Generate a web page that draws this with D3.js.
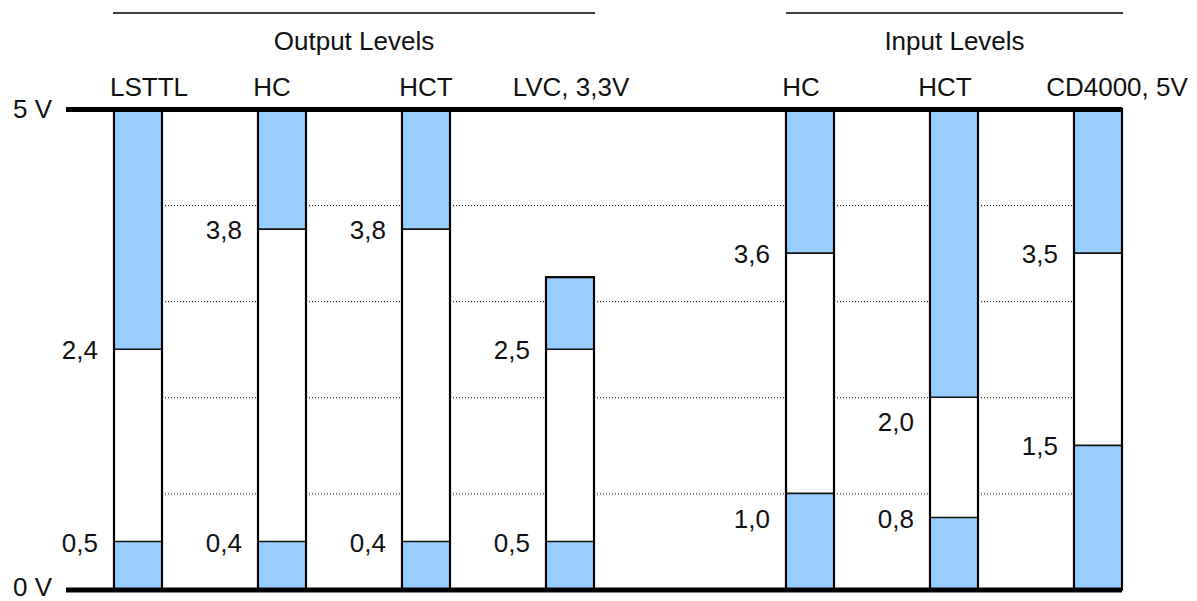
<!DOCTYPE html>
<html>
<head>
<meta charset="utf-8">
<script src="https://cdn.jsdelivr.net/npm/d3@7"></script>
<style>
  body { margin: 0; background: #fff; }
  svg { display: block; font-family: "Liberation Sans", Arial, sans-serif; }
</style>
</head>
<body>
<script>
// levels are drawn schematically (the label shows the spec value)
const outputNames = ["LSTTL", "HC", "HCT", "LVC, 3,3V"];
const outputTop = [5, 5, 5, 3.25];
const outputHigh = [2.5, 3.75, 3.75, 2.5];
const outputLow = [0.5, 0.5, 0.5, 0.5];
const outputHighLabels = ["2,4", "3,8", "3,8", "2,5"];
const outputLowLabels = ["0,5", "0,4", "0,4", "0,5"];

const inputNames = ["HC", "HCT", "CD4000, 5V"];
const inputTop = [5, 5, 5];
const inputHigh = [3.5, 2.0, 3.5];
const inputLow = [1.0, 0.75, 1.5];
const inputHighLabels = ["3,6", "2,0", "3,5"];
const inputLowLabels = ["1,0", "0,8", "1,5"];
const inputHighLabelAt = [3.5, 1.75, 3.5];
const inputLowLabelAt = [0.75, 0.75, 1.5];

const railTicks = [0, 5];
const gridLevels = [1, 2, 3, 4];
const groupTitles = ["Output Levels", "Input Levels"];

(() => {
  const width = 1197, height = 601;
  const blue = "#99ccff";
  const fontSize = 26;

  const svg = d3.select("body").append("svg")
    .attr("width", width).attr("height", height);

  const y = d3.scaleLinear().domain([0, 5]).range([589.5, 109]);

  const xOut = d3.scaleBand().domain(d3.range(outputNames.length))
    .range([114, 594]).paddingInner(2 / 3).paddingOuter(0);
  const xIn = d3.scaleBand().domain(d3.range(inputNames.length))
    .range([786, 1122]).paddingInner(2 / 3).paddingOuter(0);

  const columns = [];
  outputNames.forEach((n, i) => columns.push({
    name: n, x: xOut(i), top: outputTop[i], high: outputHigh[i], low: outputLow[i],
    hiLab: outputHighLabels[i], loLab: outputLowLabels[i],
    hiAt: outputHigh[i], loAt: outputLow[i]
  }));
  inputNames.forEach((n, i) => columns.push({
    name: n, x: xIn(i), top: inputTop[i], high: inputHigh[i], low: inputLow[i],
    hiLab: inputHighLabels[i], loLab: inputLowLabels[i],
    hiAt: inputHighLabelAt[i], loAt: inputLowLabelAt[i]
  }));
  const bw = xOut.bandwidth();
  // header nudges (px), as placed in the original drawing
  const headerShift = [11, -10, 0, 1, -9, -9, 19];

  // dotted guide lines
  const grid = svg.append("g")
    .attr("transform", `translate(${xOut(0) + bw},0)`)
    .call(d3.axisRight(y).tickValues(gridLevels).tickSize(xIn(inputNames.length - 1) - xOut(0) - bw).tickFormat(""));
  grid.select(".domain").remove();
  grid.selectAll("line").attr("stroke", "#000").attr("stroke-width", 1).attr("stroke-dasharray", "1,2");

  // bars
  const bars = svg.append("g").selectAll("g").data(columns).join("g");
  bars.append("rect").attr("x", d => d.x).attr("width", bw)
    .attr("y", d => y(d.low)).attr("height", d => y(0) - y(d.low)).attr("fill", blue);
  bars.append("rect").attr("x", d => d.x).attr("width", bw)
    .attr("y", d => y(d.high)).attr("height", d => y(d.low) - y(d.high)).attr("fill", "#fff");
  bars.append("rect").attr("x", d => d.x).attr("width", bw)
    .attr("y", d => y(d.top)).attr("height", d => y(d.high) - y(d.top)).attr("fill", blue);
  bars.selectAll("line.div").data(d => [d.low, d.high].map(v => ({ x: d.x, v }))).join("line")
    .attr("class", "div")
    .attr("x1", d => d.x).attr("x2", d => d.x + bw)
    .attr("y1", d => y(d.v)).attr("y2", d => y(d.v))
    .attr("stroke", "#111").attr("stroke-width", 1.6);
  bars.append("rect").attr("x", d => d.x).attr("width", bw)
    .attr("y", d => y(d.top)).attr("height", d => y(0) - y(d.top))
    .attr("fill", "none").attr("stroke", "#000").attr("stroke-width", 2.2);

  // value labels
  const lab = svg.append("g").attr("font-size", fontSize).attr("fill", "#111").attr("text-anchor", "end");
  columns.forEach(c => {
    [[c.hiLab, c.hiAt], [c.loLab, c.loAt]].forEach(([t, v]) => {
      lab.append("text").attr("x", c.x - 16).attr("y", y(v) + 1)
        .attr("dy", "0.35em").text(t);
    });
  });

  // rails 0 V / 5 V
  const rails = svg.append("g")
    .attr("transform", "translate(66,0)")
    .call(d3.axisLeft(y).tickValues(railTicks).tickSize(-(xIn(inputNames.length - 1) + bw - 66))
      .tickPadding(14).tickFormat(d => `${d} V`));
  rails.select(".domain").remove();
  rails.selectAll("line").attr("stroke", "#000").attr("stroke-width", 5);
  rails.selectAll("text").attr("font-size", fontSize).attr("fill", "#111")
    .attr("font-family", "Liberation Sans, Arial, sans-serif").attr("x", -14)
    .attr("dy", d => d === 0 ? "0.22em" : "0.32em");

  // column headers
  svg.append("g").attr("font-size", fontSize).attr("fill", "#111").attr("text-anchor", "middle")
    .selectAll("text").data(columns).join("text")
    .attr("x", (d, i) => d.x + bw / 2 + headerShift[i]).attr("y", 96)
    .text(d => d.name);

  // group titles with rules
  const spans = [[xOut(0) - 1, xOut(outputNames.length - 1) + bw + 1], [xIn(0), xIn(inputNames.length - 1) + bw + 1]];
  spans.forEach(([a, b], i) => {
    svg.append("line").attr("x1", a).attr("x2", b).attr("y1", 13).attr("y2", 13)
      .attr("stroke", "#000").attr("stroke-width", 1.5);
    svg.append("text").attr("x", (a + b) / 2).attr("y", 50)
      .attr("text-anchor", "middle").attr("font-size", fontSize).attr("fill", "#111")
      .text(groupTitles[i]);
  });
})();
</script>
</body>
</html>
